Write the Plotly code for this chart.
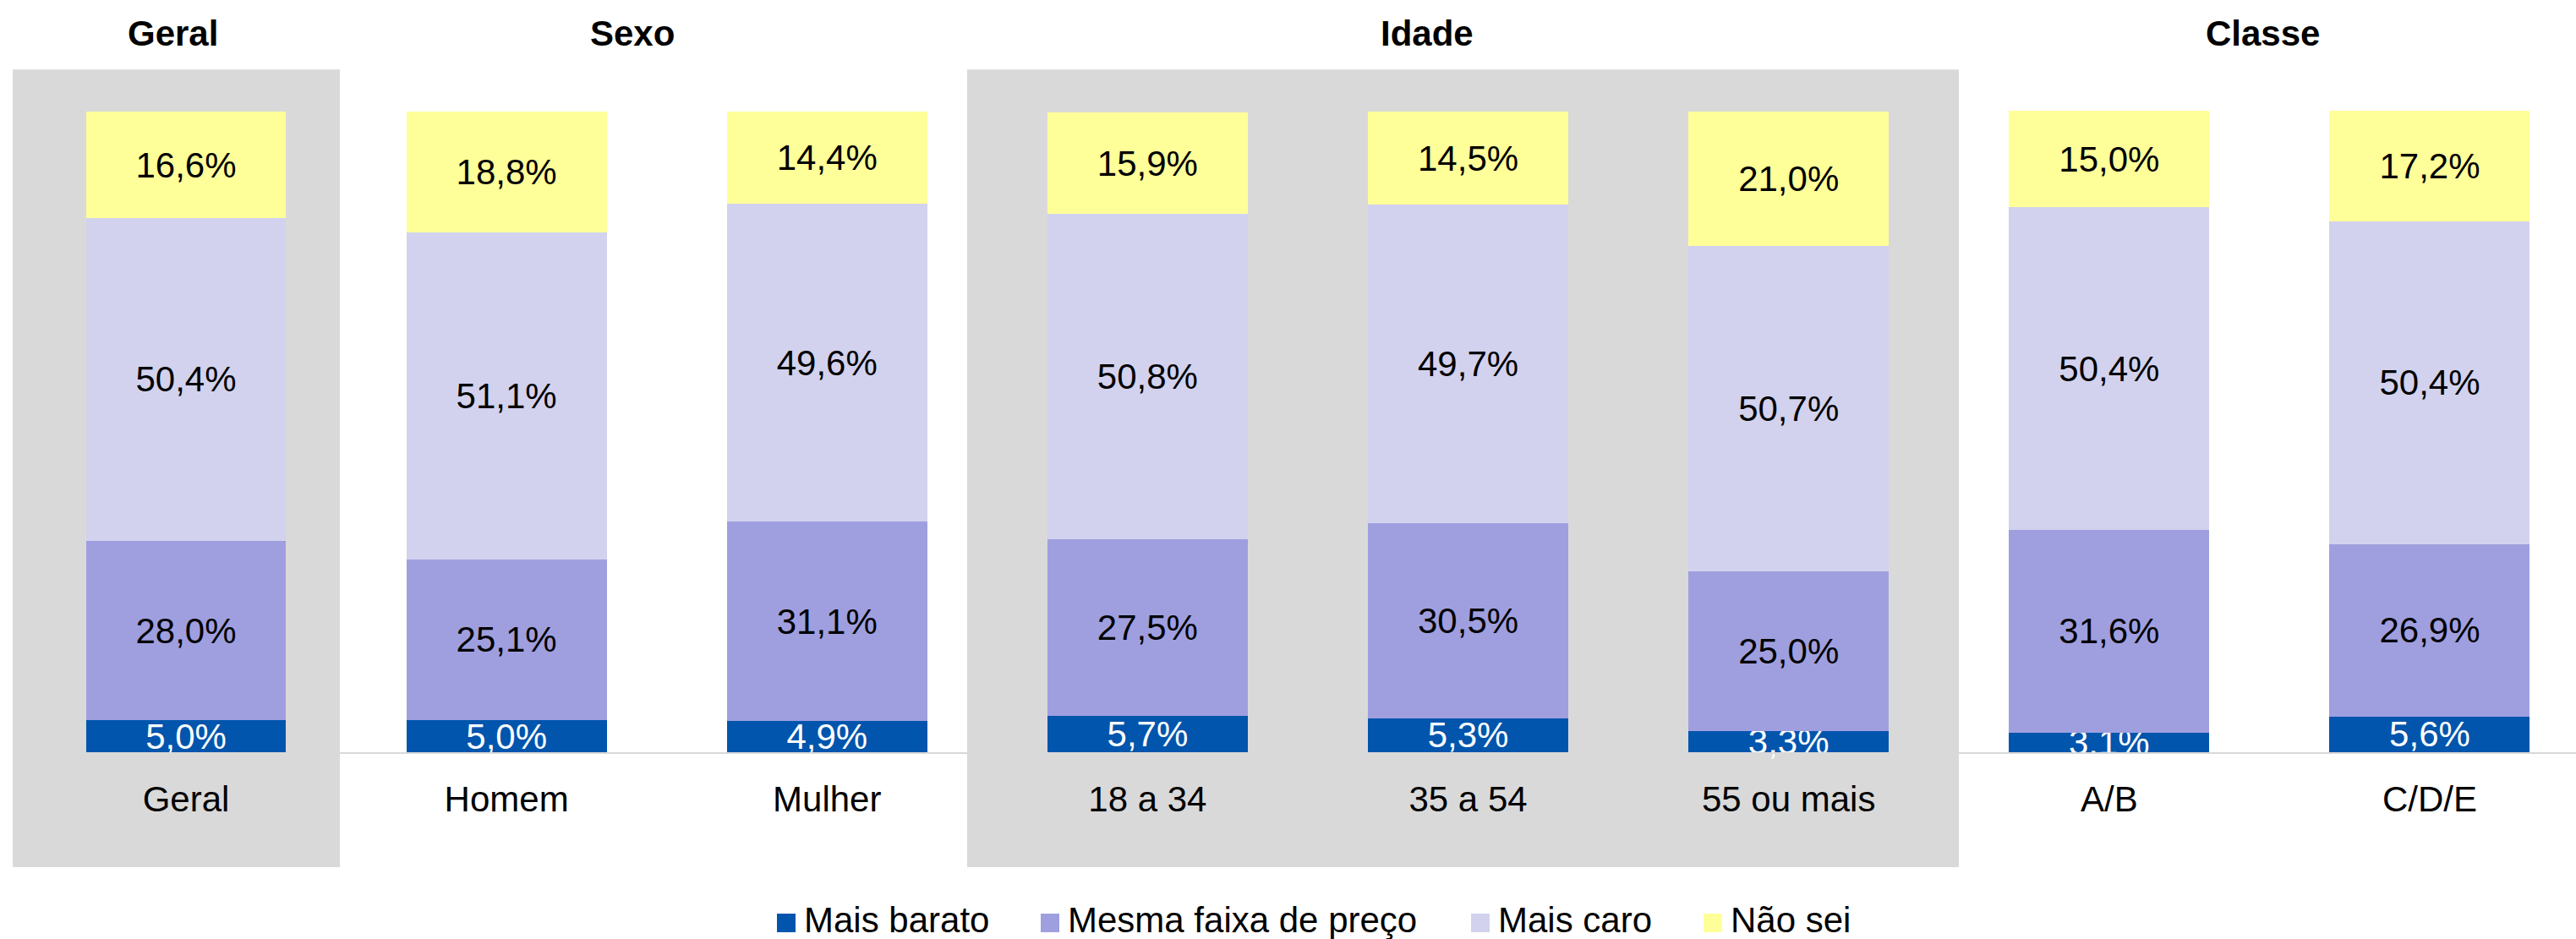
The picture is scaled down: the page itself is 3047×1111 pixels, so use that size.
import plotly.graph_objects as go

# ---------------- data ----------------
categories = ["Geral", "Homem", "Mulher", "18 a 34", "35 a 54", "55 ou mais", "A/B", "C/D/E"]
series_names = ["Mais barato", "Mesma faixa de preço", "Mais caro", "Não sei"]
mais_barato = [5.0, 5.0, 4.9, 5.7, 5.3, 3.3, 3.1, 5.6]
mesma_faixa = [28.0, 25.1, 31.1, 27.5, 30.5, 25.0, 31.6, 26.9]
mais_caro = [50.4, 51.1, 49.6, 50.8, 49.7, 50.7, 50.4, 50.4]
nao_sei = [16.6, 18.8, 14.4, 15.9, 14.5, 21.0, 15.0, 17.2]
group_titles = ["Geral", "Sexo", "Idade", "Classe"]

# ---------------- styling / layout ----------------
W, H = 3047, 1111
LEFT = 15
YMAX = 100.15
BOTTOM = 890                      # pixel row of the baseline
TOP = BOTTOM - 758 * YMAX / 100   # pixel row of the plot top (100% at row 132)
FONT = "Liberation Sans, Arial, sans-serif"
FS = 42
colors = ["#0255AC", "#9F9FDF", "#D2D2EE", "#FFFF99"]
text_colors = ["#FFFFFF", "#000000", "#000000", "#000000"]
series_values = [mais_barato, mesma_faixa, mais_caro, nao_sei]

def py(px):  # pixel row -> paper y
    return (BOTTOM - px) / (BOTTOM - TOP)

def pxx(px):  # pixel column -> paper x
    return (px - LEFT) / (W - LEFT)

fig = go.Figure()
for name, vals, col, tcol in zip(series_names, series_values, colors, text_colors):
    fig.add_trace(go.Bar(
        x=categories, y=vals, name=name,
        marker=dict(color=col, line=dict(width=0)),
        texttemplate="%{y:.1f}%", textposition="inside",
        insidetextanchor="middle", textangle=0, constraintext="none",
        insidetextfont=dict(family=FONT, size=FS, color=tcol),
        cliponaxis=False, showlegend=False, hoverinfo="skip",
    ))

shapes = []
# shaded group backgrounds (in category units)
for x0, x1 in [(-0.5407, 0.48), (2.437, 5.531)]:
    shapes.append(dict(type="rect", xref="x", yref="paper", x0=x0, x1=x1,
                       y0=py(1026), y1=py(82), fillcolor="#D9D9D9",
                       line=dict(width=0), layer="below"))

annotations = []
for title, xc in zip(group_titles, [-0.042, 1.393, 3.872, 6.478]):
    annotations.append(dict(text="<b>%s</b>" % title, xref="x", yref="paper",
                            x=xc, y=py(39), xanchor="center", yanchor="middle",
                            showarrow=False, font=dict(family=FONT, size=FS, color="#000")))

# manual legend
leg_sq = [919, 1231, 1740, 2015]
for name, col, sx in zip(series_names, colors, leg_sq):
    shapes.append(dict(type="rect", xref="paper", yref="paper",
                       x0=pxx(sx), x1=pxx(sx + 22), y0=py(1103), y1=py(1081),
                       fillcolor=col, line=dict(width=0)))
    annotations.append(dict(text=name, xref="paper", yref="paper",
                            x=pxx(sx + 30), y=py(1089), xanchor="left", yanchor="middle",
                            showarrow=False, font=dict(family=FONT, size=FS, color="#000")))

fig.update_layout(
    width=W, height=H,
    margin=dict(l=LEFT, r=0, t=TOP, b=H - BOTTOM, pad=0),
    barmode="stack", bargap=0.375,
    separators=",.",
    paper_bgcolor="#FFFFFF", plot_bgcolor="rgba(0,0,0,0)",
    font=dict(family=FONT, size=FS, color="#000"),
    shapes=shapes, annotations=annotations,
    showlegend=False,
)
fig.update_xaxes(type="category", range=[-0.5407, 7.4564], showgrid=False,
                 showline=True, linecolor="#D9D9D9", linewidth=2,
                 ticks="", ticklabelstandoff=18,
                 tickfont=dict(family=FONT, size=FS, color="#000"), fixedrange=True)
fig.update_yaxes(range=[0, YMAX], visible=False, showgrid=False, fixedrange=True)

fig.write_html(
    "out.html",
    config={"displayModeBar": False},
    post_script="document.body.style.margin='0';document.body.style.padding='0';"
                "document.documentElement.style.overflow='hidden';",
)
